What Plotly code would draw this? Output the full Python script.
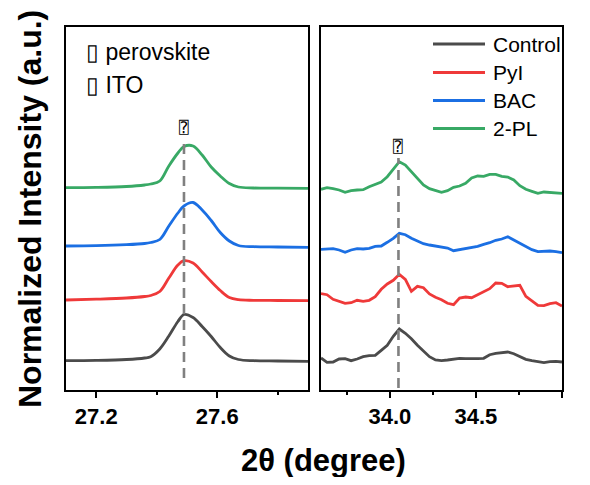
import plotly.graph_objects as go

# ---------------- data ----------------
series_names = ["Control", "PyI", "BAC", "2-PL"]
series_colors = ["#4b4b4b", "#ef3939", "#1b6fe3", "#38a965"]

x_left = [27.10, 27.20, 27.30, 27.36, 27.38, 27.41, 27.44, 27.47, 27.49, 27.52,
          27.55, 27.58, 27.61, 27.64, 27.67, 27.72, 27.80, 27.90]
left_control = [29.3, 29.6, 30.5, 32.0, 33.3, 41.0, 54.0, 68.5, 75.5, 72.5,
                63.5, 53.5, 42.5, 34.0, 30.5, 29.3, 29.0, 28.7]
left_pyi = [90.0, 90.8, 92.0, 93.5, 94.5, 98.5, 112.0, 125.0, 129.3, 127.0,
            118.0, 108.5, 99.5, 92.5, 90.3, 89.7, 89.5, 89.3]
left_bac = [144.0, 144.3, 145.3, 146.5, 147.5, 150.5, 164.0, 177.0, 184.0, 187.5,
            180.0, 169.5, 157.5, 149.0, 144.5, 143.3, 143.0, 142.7]
left_2pl = [202.3, 202.6, 203.5, 205.0, 206.0, 209.0, 224.0, 237.0, 243.5, 244.0,
            235.0, 223.0, 214.0, 206.5, 203.0, 202.0, 201.8, 201.7]

x_right = [33.600, 33.635, 33.670, 33.705, 33.740, 33.775, 33.810, 33.845, 33.880, 33.915,
           33.950, 33.985, 34.020, 34.055, 34.090, 34.125, 34.160, 34.195, 34.230, 34.265,
           34.300, 34.335, 34.370, 34.405, 34.440, 34.475, 34.510, 34.545, 34.580, 34.615,
           34.650, 34.685, 34.720, 34.755, 34.790, 34.825, 34.860, 34.895, 34.930, 34.965,
           35.000]
right_control = [32.0, 27.7, 28.0, 31.0, 31.3, 29.3, 31.0, 33.3, 34.3, 34.7,
                 39.7, 44.7, 53.7, 61.0, 56.7, 51.3, 44.7, 38.7, 33.3, 30.0,
                 29.3, 30.0, 30.7, 31.7, 31.3, 31.0, 31.3, 31.7, 35.3, 36.7,
                 37.7, 38.0, 36.3, 33.7, 30.7, 29.3, 28.0, 27.3, 28.3, 28.7,
                 28.0]
right_pyi = [96.3, 95.3, 90.7, 88.3, 86.7, 87.3, 89.7, 88.7, 89.7, 93.3,
             100.7, 106.0, 109.7, 115.7, 110.7, 98.7, 103.7, 102.3, 96.0, 92.7,
             90.3, 86.7, 85.3, 92.0, 93.0, 92.3, 95.3, 99.0, 101.3, 107.0,
             106.7, 103.3, 104.0, 104.7, 93.7, 89.0, 84.7, 84.3, 86.3, 87.3,
             84.0]
right_bac = [140.7, 141.0, 141.3, 140.0, 137.7, 140.0, 141.3, 141.0, 141.7, 143.7,
             144.0, 147.7, 151.7, 156.7, 155.3, 151.7, 148.7, 146.3, 145.0, 144.0,
             143.0, 142.0, 139.3, 140.3, 141.3, 142.3, 143.7, 145.7, 147.3, 149.7,
             151.0, 153.3, 150.0, 147.3, 143.3, 140.3, 138.3, 139.0, 139.0, 138.3,
             137.3]
right_2pl = [200.7, 202.3, 201.3, 200.0, 197.7, 199.3, 200.0, 200.3, 203.3, 206.0,
             208.0, 213.3, 221.0, 228.3, 225.0, 218.3, 210.7, 205.0, 201.3, 199.7,
             197.7, 199.3, 202.7, 204.0, 206.7, 212.0, 214.0, 213.7, 215.7, 215.7,
             213.7, 213.0, 210.0, 204.3, 200.7, 198.7, 196.7, 198.0, 197.7, 197.0,
             196.7]

peak_left = 27.49
peak_right = 34.05
dash_left_y = [12, 252]
dash_right_y = [2, 232]

left_ticks = [27.2, 27.6]
right_ticks = [34.0, 34.5, 35.0]
left_tick_labels = ["27.2", "27.6"]
right_tick_labels = ["34.0", "34.5", "35.0"]

left_sets = [left_control, left_pyi, left_bac, left_2pl]
right_sets = [right_control, right_pyi, right_bac, right_2pl]

# ---------------- figure ----------------
# the page body has an 8px margin, so the figure is sized to fit the window exactly
OFF = 8
W, H = 590 - 2 * OFF, 485 - 2 * OFF
FONT = "Liberation Sans, Arial, sans-serif"

fig = go.Figure()

for name, col, yl, yr in zip(series_names, series_colors, left_sets, right_sets):
    fig.add_trace(go.Scatter(x=x_left, y=yl, mode="lines", name=name,
                             line=dict(color=col, width=2.8, shape="spline", smoothing=1.0),
                             xaxis="x", yaxis="y", showlegend=False))
    fig.add_trace(go.Scatter(x=x_right, y=yr, mode="lines", name=name,
                             line=dict(color=col, width=2.8),
                             xaxis="x2", yaxis="y2", showlegend=False))

fig.add_trace(go.Scatter(x=[peak_left, peak_left], y=dash_left_y, mode="lines",
                         line=dict(color="#808080", width=2.6, dash="10px,6px"),
                         xaxis="x", yaxis="y", showlegend=False))
fig.add_trace(go.Scatter(x=[peak_right, peak_right], y=dash_right_y, mode="lines",
                         line=dict(color="#808080", width=2.6, dash="10px,6px"),
                         xaxis="x2", yaxis="y2", showlegend=False))


def px_x(p):
    return (p - OFF) / W


def px_y(p):
    return 1 - (p - OFF) / H


top_px, bot_px = 27, 390
ydom = [px_y(bot_px), px_y(top_px)]

axis_common = dict(showline=True, linecolor="black", linewidth=2, mirror=True,
                   ticks="outside", ticklen=6, tickwidth=2, tickcolor="black",
                   showgrid=False, zeroline=False,
                   tickfont=dict(family=FONT, size=22, color="black", weight="bold"))

fig.update_layout(
    width=W, height=H,
    margin=dict(l=0, r=0, t=0, b=0, pad=0),
    paper_bgcolor="white", plot_bgcolor="white",
    xaxis=dict(domain=[px_x(66), px_x(308)], range=[27.1, 27.9],
               tickvals=left_ticks, ticktext=left_tick_labels,
               minor=dict(tickvals=[27.4, 27.8], ticks="outside", ticklen=3,
                          tickwidth=2, tickcolor="black"),
               anchor="y", **axis_common),
    xaxis2=dict(domain=[px_x(321), px_x(562)], range=[33.6, 35.0],
                tickvals=right_ticks, ticktext=right_tick_labels,
                minor=dict(tickvals=[33.75, 34.25, 34.75], ticks="outside", ticklen=3,
                           tickwidth=2, tickcolor="black"),
                anchor="y2", **axis_common),
    yaxis=dict(domain=ydom, range=[0, 363], showticklabels=False, ticks="",
               showline=True, linecolor="black", linewidth=2, mirror=True,
               showgrid=False, zeroline=False, anchor="x"),
    yaxis2=dict(domain=ydom, range=[0, 363], showticklabels=False, ticks="",
                showline=True, linecolor="black", linewidth=2, mirror=True,
                showgrid=False, zeroline=False, anchor="x2"),
)

annotations = []
annotations.append(dict(text="2θ (degree)", x=px_x(323), y=px_y(460), xref="paper", yref="paper",
                        showarrow=False, xanchor="center", yanchor="middle",
                        font=dict(family=FONT, size=31, color="black", weight="bold")))
annotations.append(dict(text="Normalized Intensity (a.u.)", x=px_x(30), y=px_y(209),
                        xref="paper", yref="paper", showarrow=False, textangle=-90,
                        xanchor="center", yanchor="middle",
                        font=dict(family=FONT, size=32, color="black", weight="bold")))
for txt, py in [("▯ perovskite", 52), ("▯ ITO", 85)]:
    annotations.append(dict(text=txt, x=px_x(84), y=px_y(py), xref="paper", yref="paper",
                            showarrow=False, xanchor="left", yanchor="middle",
                            font=dict(family=FONT, size=23, color="black")))
annotations.append(dict(text="⍰", x=peak_left, y=px_y(127), xref="x", yref="paper",
                        showarrow=False, xanchor="center", yanchor="middle",
                        font=dict(family="DejaVu Sans Mono, DejaVu Sans", size=16, color="black")))
annotations.append(dict(text="⍰", x=peak_right, y=px_y(146), xref="x2", yref="paper",
                        showarrow=False, xanchor="center", yanchor="middle",
                        font=dict(family="DejaVu Sans Mono, DejaVu Sans", size=16, color="black")))

shapes = []
leg_rows = [44, 72.5, 100.5, 128.5]
for name, col, py in zip(series_names, series_colors, leg_rows):
    shapes.append(dict(type="line", xref="paper", yref="paper",
                       x0=px_x(433), x1=px_x(485), y0=px_y(py), y1=px_y(py),
                       line=dict(color=col, width=2.8)))
    annotations.append(dict(text=name, x=px_x(491), y=px_y(py), xref="paper", yref="paper",
                            showarrow=False, xanchor="left", yanchor="middle",
                            font=dict(family=FONT, size=21, color="black")))

fig.update_layout(annotations=annotations, shapes=shapes)

fig.write_html("out.html")
